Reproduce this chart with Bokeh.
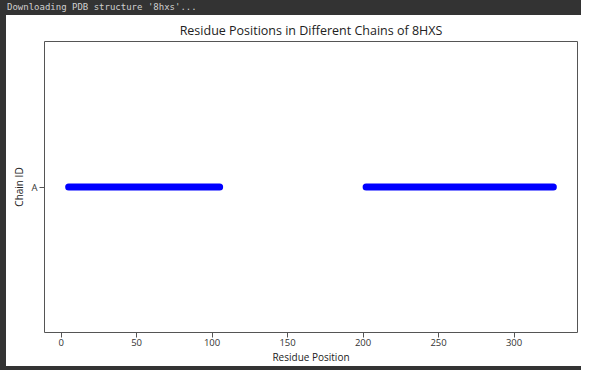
from bokeh.plotting import figure
from bokeh.models import Range1d, FactorRange, FixedTicker, Div, ColumnDataSource
from bokeh.layouts import column, row
from bokeh.embed import file_html
from bokeh.resources import INLINE

# ---- data ----
chains = ["A", "A"]
seg_start = [5, 202]
seg_end = [105, 326]
x_ticks = [0, 50, 100, 150, 200, 250, 300]
title_text = "Residue Positions in Different Chains of 8HXS"
banner_text = "Downloading PDB structure '8hxs'..."

FONT = "Open Sans"
DARK = "#333333"

src = ColumnDataSource(dict(chain=chains, x0=seg_start, x1=seg_end))

p = figure(width=575, height=351, output_backend="svg", toolbar_location=None,
           x_range=Range1d(-11, 342), y_range=FactorRange(factors=["A"]),
           title=title_text,
           min_border_left=38, min_border_right=4, min_border_top=26, min_border_bottom=34,
           background_fill_color="white", border_fill_color="white", margin=0)
p.outline_line_color = "#555555"
p.outline_line_width = 1

p.segment(x0="x0", y0="chain", x1="x1", y1="chain", source=src,
          line_color="#0000ff", line_width=7, line_cap="round")

p.title.align = "center"
p.title.text_font = FONT
p.title.text_font_size = "12.5px"
p.title.text_font_style = "normal"
p.title.text_color = "#222222"
p.title.standoff = 6

p.xgrid.visible = False
p.ygrid.visible = False

for ax in (p.xaxis[0], p.yaxis[0]):
    ax.axis_line_color = None
    ax.major_tick_line_color = "#555555"
    ax.major_tick_out = 5
    ax.major_tick_in = 0
    ax.minor_tick_line_color = None
    ax.major_label_text_font = FONT
    ax.major_label_text_font_size = "9.5px"
    ax.major_label_text_color = "#333333"
    ax.axis_label_text_font = FONT
    ax.axis_label_text_font_size = "10px"
    ax.axis_label_text_font_style = "normal"
    ax.axis_label_text_color = "#222222"
    ax.major_label_standoff = 2

p.xaxis.ticker = FixedTicker(ticks=x_ticks)
p.xaxis.axis_label = "Residue Position"
p.xaxis.axis_label_standoff = 1
p.xaxis.major_label_standoff = 1
p.yaxis.axis_label = "Chain ID"
p.yaxis.axis_label_standoff = 2

banner = Div(text=banner_text, width=581, height=15, margin=0,
             styles={"background-color": DARK, "color": "#d0d0d0",
                     "font-family": "DejaVu Sans Mono", "font-size": "9px",
                     "line-height": "14px", "padding-left": "7px", "box-sizing": "border-box",
                     "white-space": "pre", "overflow": "hidden"})
left_strip = Div(text="", width=6, height=351, margin=0, styles={"background-color": DARK})
bottom_strip = Div(text="", width=581, height=4, margin=0, styles={"background-color": DARK})

layout = column(banner, row(left_strip, p, spacing=0, margin=0), bottom_strip,
                spacing=0, margin=0)

open("out.html", "w").write(file_html(layout, INLINE))
